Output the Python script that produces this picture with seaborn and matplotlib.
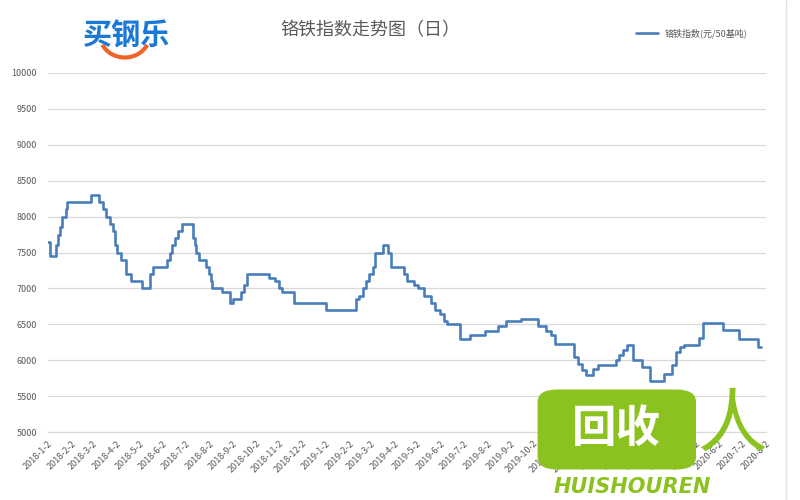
import pandas as pd
import matplotlib
matplotlib.use('Agg')
import matplotlib.pyplot as plt
from matplotlib.patches import Arc, FancyBboxPatch
from matplotlib.lines import Line2D
import seaborn as sns

# Dữ liệu (giá trị giữ nguyên từ ngày này đến ngày kế tiếp)
dates = [
    '2018-01-02', '2018-01-04', '2018-01-13', '2018-01-15', '2018-01-18', '2018-01-20',
    '2018-01-25', '2018-01-27', '2018-02-28', '2018-03-10', '2018-03-15', '2018-03-19',
    '2018-03-24', '2018-03-28', '2018-03-31', '2018-04-03', '2018-04-08', '2018-04-15',
    '2018-04-21', '2018-05-05', '2018-05-16', '2018-05-20', '2018-06-07', '2018-06-11',
    '2018-06-14', '2018-06-18', '2018-06-22', '2018-06-27', '2018-07-11', '2018-07-14',
    '2018-07-16', '2018-07-19', '2018-07-29', '2018-08-01', '2018-08-04', '2018-08-06',
    '2018-08-18', '2018-08-29', '2018-09-02', '2018-09-13', '2018-09-17', '2018-09-21',
    '2018-10-20', '2018-10-27', '2018-11-01', '2018-11-06', '2018-11-21', '2019-01-02',
    '2019-02-11', '2019-02-15', '2019-02-20', '2019-02-24', '2019-02-28', '2019-03-05',
    '2019-03-08', '2019-03-18', '2019-03-25', '2019-03-29', '2019-04-15', '2019-04-19',
    '2019-04-28', '2019-05-03', '2019-05-11', '2019-05-20', '2019-05-25', '2019-06-01',
    '2019-06-06', '2019-06-10', '2019-06-28', '2019-07-11', '2019-07-30', '2019-08-16',
    '2019-08-27', '2019-09-15', '2019-10-08', '2019-10-19', '2019-10-25', '2019-10-30',
    '2019-11-24', '2019-11-30', '2019-12-05', '2019-12-10', '2019-12-19', '2019-12-26',
    '2020-01-18', '2020-01-23', '2020-01-28', '2020-02-02', '2020-02-10', '2020-02-22',
    '2020-03-03', '2020-03-22', '2020-04-01', '2020-04-06', '2020-04-11', '2020-04-17',
    '2020-05-07', '2020-05-12', '2020-06-07', '2020-06-28', '2020-07-23', '2020-07-27',
]
values = [
    7650, 7450, 7600, 7750, 7850, 8000,
    8100, 8200, 8300, 8200, 8100, 8000,
    7900, 7800, 7600, 7500, 7400, 7200,
    7100, 7000, 7200, 7300, 7400, 7500,
    7600, 7700, 7800, 7900, 7700, 7600,
    7500, 7400, 7300, 7200, 7100, 7000,
    6950, 6800, 6850, 6950, 7050, 7200,
    7150, 7100, 7000, 6950, 6800, 6700,
    6850, 6900, 7000, 7100, 7200, 7300,
    7500, 7600, 7500, 7300, 7200, 7100,
    7050, 7000, 6900, 6800, 6700, 6650,
    6550, 6500, 6300, 6350, 6400, 6480,
    6550, 6580, 6480, 6400, 6350, 6230,
    6050, 5950, 5870, 5800, 5880, 5930,
    6000, 6070, 6140, 6210, 6000, 5900,
    5710, 5810, 5930, 6120, 6190, 6210,
    6310, 6520, 6420, 6290, 6180, 6180,
]
y_ticks = [5000, 5500, 6000, 6500, 7000, 7500, 8000, 8500, 9000, 9500, 10000]
x_ticks = pd.date_range('2018-01-02', '2020-08-02', freq=pd.DateOffset(months=1))
x_labels = [f'{d.year}-{d.month}-{d.day}' for d in x_ticks]

df = pd.DataFrame({'date': pd.to_datetime(dates), 'value': values})

sns.set_style('white')
plt.rcParams['font.family'] = ['Noto Sans CJK SC', 'DejaVu Sans']

fig = plt.figure(figsize=(8, 5), dpi=100)
ax = fig.add_axes([0.06, 0.136, 0.897, 0.718])

sns.lineplot(data=df, x='date', y='value', ax=ax, color='#4a7ebb', lw=1.9,
             drawstyle='steps-post', legend=False)

ax.set_ylim(5000, 10000)
ax.set_yticks(y_ticks)
ax.set_yticklabels([str(v) for v in y_ticks], fontsize=6.5, color='#595959')
ax.set_xlim(pd.Timestamp('2018-01-02'), pd.Timestamp('2020-08-01'))
ax.set_xticks(x_ticks)
ax.set_xticklabels(x_labels, rotation=45, ha='right', rotation_mode='anchor',
                   fontsize=6.5, color='#595959')
ax.set_xlabel('')
ax.set_ylabel('')
ax.grid(axis='y', color='#d9d9d9', lw=0.9)
ax.grid(axis='x', visible=False)
for s in ['top', 'right', 'left']:
    ax.spines[s].set_visible(False)
ax.spines['bottom'].set_color('#d9d9d9')
ax.tick_params(axis='x', length=3, color='#d9d9d9', pad=2)
ax.tick_params(axis='y', length=0, pad=8)

# Tiêu đề
fig.text(0.463, 0.94, '铬铁指数走势图（日）', ha='center', va='center',
         fontsize=13, color='#595959')

# Chú thích
h = Line2D([], [], color='#4a7ebb', lw=1.9)
fig.legend([h], ['铬铁指数(元/50基吨)'], loc='center', bbox_to_anchor=(0.865, 0.934),
           frameon=False, fontsize=6.5, handlelength=2.4, labelcolor='#595959')

# Logo
fig.text(0.158, 0.928, '买钢乐', ha='center', va='center', fontsize=21,
         fontweight='bold', color='#1a78d6')
fig.add_artist(Arc((0.156, 0.93), 0.062, 0.09, theta1=215, theta2=325,
                   transform=fig.transFigure, color='#f0642a', lw=3))

# Khung viền phải
fig.add_artist(Line2D([0.982, 0.982], [0, 1], transform=fig.transFigure,
                      color='#e3e3e3', lw=1))

# Watermark
fig.add_artist(FancyBboxPatch((0.677, 0.066), 0.188, 0.15,
                              boxstyle='round,pad=0.005,rounding_size=0.025',
                              transform=fig.transFigure, facecolor='#8cc21f', edgecolor='none'))
fig.text(0.771, 0.142, '回收', ha='center', va='center', fontsize=32,
         fontweight='bold', color='white')
fig.text(0.915, 0.148, '人', ha='center', va='center', fontsize=50,
         color='#8cc21f', style='italic')
fig.text(0.79, 0.026, 'HUISHOUREN', ha='center', va='center', fontsize=15,
         fontweight='bold', style='italic', color='#8cc21f', family='DejaVu Sans')

fig.savefig('out.png', dpi=100, facecolor='white')
